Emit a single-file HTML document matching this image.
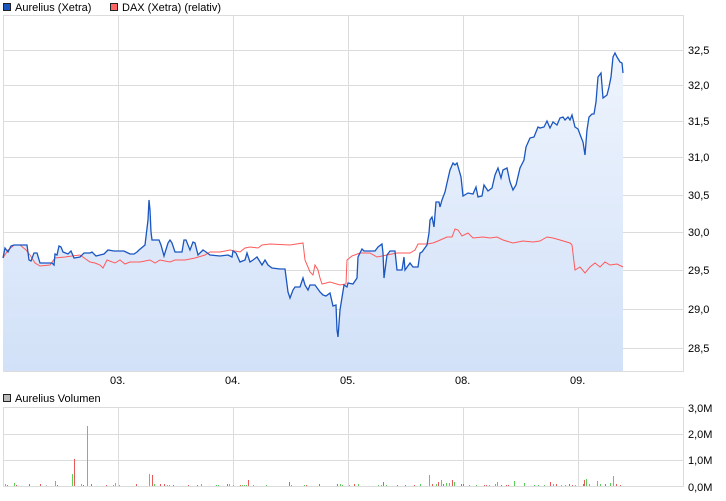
<!DOCTYPE html>
<html><head><meta charset="utf-8"><style>
body{margin:0;background:#fff;width:726px;height:496px;overflow:hidden;font-family:"Liberation Sans",sans-serif}
svg text{font-family:"Liberation Sans",sans-serif;font-size:11px;fill:#000}
</style></head><body>
<svg width="726" height="496" viewBox="0 0 726 496" xmlns="http://www.w3.org/2000/svg">
<defs><linearGradient id="g" x1="0" y1="0" x2="0" y2="1"><stop offset="0" stop-color="#eef4fd"/><stop offset="1" stop-color="#d2e1f8"/></linearGradient></defs>
<rect x="3.5" y="3.5" width="7" height="7" fill="#1a56c0" stroke="#222"/>
<text x="15" y="11">Aurelius (Xetra)</text>
<rect x="110.5" y="3.5" width="7" height="7" fill="#ff6666" stroke="#222"/>
<text x="122" y="11">DAX (Xetra) (relativ)</text>
<g stroke="#dcdcdc" stroke-width="1" fill="none">
<rect x="3.5" y="15.5" width="680" height="356"/>
<path d="M118.5 15V371M233.5 15V371M348.5 15V371M463.5 15V371M578.5 15V371"/>
<path d="M3 50.5H684M3 85.5H684M3 121.5H684M3 157.5H684M3 195.5H684M3 232.5H684M3 270.5H684M3 309.5H684M3 348.5H684"/>
</g>
<g>
<text x="688" y="54">32,5</text><text x="688" y="89">32,0</text><text x="688" y="125">31,5</text><text x="688" y="161">31,0</text><text x="688" y="199">30,5</text><text x="688" y="236">30,0</text><text x="688" y="274">29,5</text><text x="688" y="313">29,0</text><text x="688" y="352">28,5</text>
<text x="110" y="384">03.</text><text x="225" y="384">04.</text><text x="340" y="384">05.</text><text x="455" y="384">08.</text><text x="570" y="384">09.</text>
</g>
<polygon fill="url(#g)" points="3,371 3,258 5,248 8,252 11,246 14,245 27,245 29,260 31,261 34,253 37,253 40,263 52,263 54,265 55,254 57,255 59,246 61,247 63,252 68,254 71,251 74,258 80,257 84,253 90,253 92,252 96,256 100,255 104,254 108,250 114,251 124,251 130,254 134,254 137,252 139,250 145,245 148,220 149,200 150,210 151,232 152,240 159,240 161,245 164,256 168,243 170,240 172,243 175,252 182,252 184,240 186,240 190,250 193,242 195,243 198,255 203,250 206,252 210,255 220,256 228,255 232,257 233,251 236,253 240,262 245,260 247,253 250,262 253,260 257,257 262,265 265,260 268,265 272,268 280,269 285,269 288,292 290,298 293,290 295,287 300,287 303,278 305,285 308,290 310,285 315,285 320,292 323,295 326,296 330,293 333,306 336,305 337,330 338,337 340,310 344,285 347,287 348,283 353,284 357,278 358,257 362,249 364,251 375,251 378,247 382,244 383,253 384,278 387,255 390,251 395,251 397,270 402,270 404,257 405,270 410,263 413,267 418,267 420,253 422,252 427,245 429,233 430,220 432,217 434,227 436,202 439,202 440,207 442,200 445,192 447,183 450,170 453,163 455,165 457,163 461,177 463,196 468,193 473,194 476,187 478,197 482,196 484,185 488,191 492,188 495,175 498,168 501,178 503,170 507,168 510,182 513,190 516,185 520,168 524,160 526,147 530,138 534,137 538,127 540,128 544,127 547,121 550,128 553,122 557,125 560,118 563,117 565,120 568,117 570,120 572,115 575,127 578,129 581,137 583,142 585,155 587,130 589,117 592,114 594,114 596,102 598,77 601,73 603,98 607,95 609,87 611,77 613,57 615,53 617,57 620,62 622,63 623,73 623,371"/>
<polyline fill="none" stroke="#ff5a5a" stroke-width="1" points="3,258 8,250 12,247 14,245 20,245 26,250 30,255 35,263 40,266 50,265 55,258 65,257 72,256 80,255 90,262 95,263 100,265 103,268 107,260 115,263 120,260 125,264 130,262 140,262 150,260 155,263 160,260 170,262 175,260 185,260 195,258 205,255 210,252 220,252 230,250 240,252 245,248 250,247 258,248 262,245 270,244 290,245 303,243 305,260 310,272 313,275 315,265 318,270 320,278 322,284 330,282 340,285 346,284 347,260 352,256 360,253 370,253 377,257 387,255 397,253 410,253 415,250 418,244 427,244 433,243 438,241 447,237 452,237 455,229 458,230 462,236 468,233 473,238 483,237 490,238 497,237 503,240 513,243 523,241 533,242 540,241 547,237 553,238 560,240 570,243 572,245 575,270 580,267 585,273 590,267 595,263 600,267 605,262 610,265 617,264 623,267"/>
<polyline fill="none" stroke="#1a56c0" stroke-width="1.3" points="3,258 5,248 8,252 11,246 14,245 27,245 29,260 31,261 34,253 37,253 40,263 52,263 54,265 55,254 57,255 59,246 61,247 63,252 68,254 71,251 74,258 80,257 84,253 90,253 92,252 96,256 100,255 104,254 108,250 114,251 124,251 130,254 134,254 137,252 139,250 145,245 148,220 149,200 150,210 151,232 152,240 159,240 161,245 164,256 168,243 170,240 172,243 175,252 182,252 184,240 186,240 190,250 193,242 195,243 198,255 203,250 206,252 210,255 220,256 228,255 232,257 233,251 236,253 240,262 245,260 247,253 250,262 253,260 257,257 262,265 265,260 268,265 272,268 280,269 285,269 288,292 290,298 293,290 295,287 300,287 303,278 305,285 308,290 310,285 315,285 320,292 323,295 326,296 330,293 333,306 336,305 337,330 338,337 340,310 344,285 347,287 348,283 353,284 357,278 358,257 362,249 364,251 375,251 378,247 382,244 383,253 384,278 387,255 390,251 395,251 397,270 402,270 404,257 405,270 410,263 413,267 418,267 420,253 422,252 427,245 429,233 430,220 432,217 434,227 436,202 439,202 440,207 442,200 445,192 447,183 450,170 453,163 455,165 457,163 461,177 463,196 468,193 473,194 476,187 478,197 482,196 484,185 488,191 492,188 495,175 498,168 501,178 503,170 507,168 510,182 513,190 516,185 520,168 524,160 526,147 530,138 534,137 538,127 540,128 544,127 547,121 550,128 553,122 557,125 560,118 563,117 565,120 568,117 570,120 572,115 575,127 578,129 581,137 583,142 585,155 587,130 589,117 592,114 594,114 596,102 598,77 601,73 603,98 607,95 609,87 611,77 613,57 615,53 617,57 620,62 622,63 623,73"/>
<rect x="3.5" y="394.5" width="7" height="7" fill="#bbb" stroke="#222"/>
<text x="15" y="402">Aurelius Volumen</text>
<g stroke="#dcdcdc" fill="none">
<rect x="3.5" y="407.5" width="680" height="79"/>
<path d="M118.5 407V487M233.5 407V487M348.5 407V487M463.5 407V487M578.5 407V487M3 434.5H684M3 460.5H684"/>
</g>
<text x="688" y="412">3,0M</text><text x="688" y="438">2,0M</text><text x="688" y="464">1,0M</text><text x="688" y="491">0,0M</text>
<g stroke-width="1">
<g stroke="#5ad05a">
<path d="M5.5 486v-2M14.5 486v-3M55.5 486v-5M72.5 486v-12M87.5 486v-60M81.5 486v-2M113.5 486v-1M115.5 486v-3M119.5 486v-1M149.5 486v-12M154.5 486v-2M167.5 486v-1M169.5 486v-1M201.5 486v-2M216.5 486v-1M218.5 486v-1M229.5 486v-2M233.5 486v-1M242.5 486v-1M244.5 486v-1M246.5 486v-1M253.5 486v-1M266.5 486v-1M291.5 486v-1M304.5 486v-1M340.5 486v-2M342.5 486v-1M349.5 486v-1M358.5 486v-2M378.5 486v-1M381.5 486v-1M386.5 486v-1M420.5 486v-2M429.5 486v-11M436.5 486v-2M441.5 486v-6M446.5 486v-3M449.5 486v-3M454.5 486v-4M469.5 486v-1M476.5 486v-1M489.5 486v-1M495.5 486v-2M497.5 486v-4M514.5 486v-5M524.5 486v-3M534.5 486v-1M538.5 486v-1M544.5 486v-1M553.5 486v-2M561.5 486v-1M565.5 486v-1M575.5 486v-1M586.5 486v-7M589.5 486v-2M597.5 486v-5M600.5 486v-2M610.5 486v-3M613.5 486v-10"/>
</g>
<g stroke="#e85a5a">
<path d="M7.5 486v-1M16.5 486v-1M29.5 486v-2M40.5 486v-2M57.5 486v-1M74.5 486v-27M83.5 486v-1M91.5 486v-2M106.5 486v-1M136.5 486v-2M152.5 486v-11M160.5 486v-2M164.5 486v-2M173.5 486v-1M188.5 486v-1M197.5 486v-1M227.5 486v-2M240.5 486v-1M248.5 486v-6M289.5 486v-4M306.5 486v-1M319.5 486v-2M337.5 486v-2M354.5 486v-2M383.5 486v-4M397.5 486v-1M405.5 486v-1M414.5 486v-1M432.5 486v-2M438.5 486v-4M443.5 486v-2M452.5 486v-6M461.5 486v-2M463.5 486v-2M484.5 486v-1M486.5 486v-1M501.5 486v-1M506.5 486v-1M508.5 486v-1M550.5 486v-4M556.5 486v-2M569.5 486v-2M572.5 486v-1M583.5 486v-2M584.5 486v-6M605.5 486v-2M616.5 486v-2M620.5 486v-1"/>
</g>
<path d="M46.5 486v-1" stroke="#bbb"/>
</g>
</svg>
</body></html>
